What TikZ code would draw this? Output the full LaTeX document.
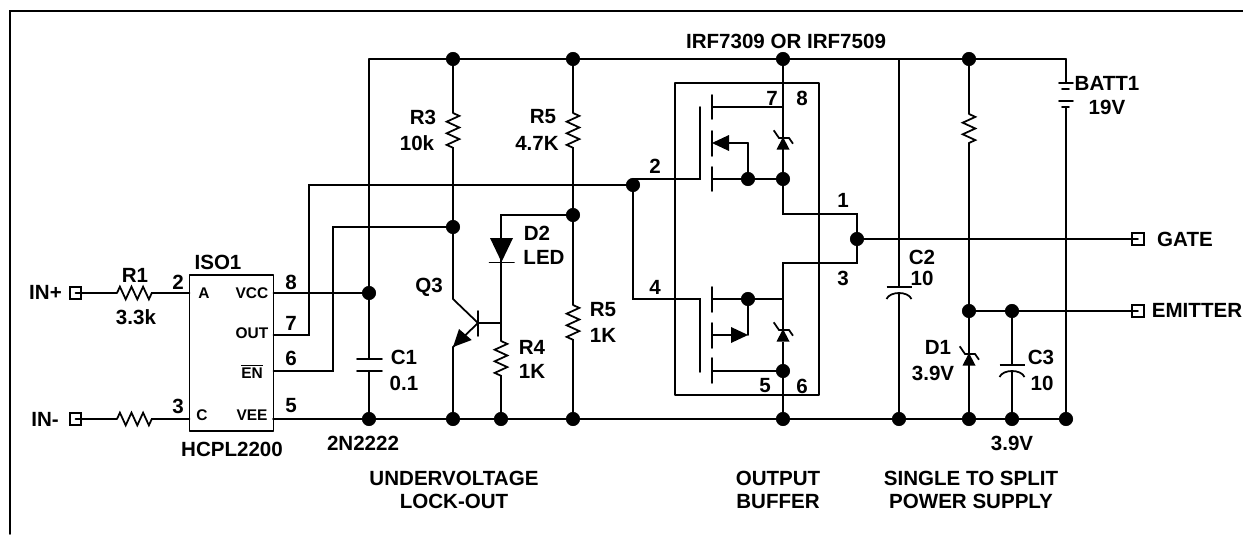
\documentclass[tikz,border=0pt]{standalone}
\usepackage{fontspec}
\setmainfont{Liberation Sans}
\usetikzlibrary{arrows,calc,decorations.pathmorphing}
\usepackage{tkz-euclide}

\tikzset{lbl/.style={font=\bfseries\fontsize{11.7}{13}\selectfont,inner sep=0pt,align=center},
  pinlbl/.style={font=\bfseries\fontsize{8.8}{10}\selectfont,inner sep=0pt},
  term/.style={draw,line width=1pt,fill=white,minimum size=6.6pt,inner sep=0pt},
  reszig/.style={line width=1pt,decorate,decoration={zigzag,segment length=6.6pt,amplitude=3.6pt}},
  zener/.pic={\fill (0,0)--(-6.5,12.5)--(6.5,12.5)--cycle;
    \draw[line width=1pt] (-9.3,-6.7)--(-4,1)--(6,1)--(10,6.7);},
  capcurve/.pic={\draw[line width=1pt] (-12.5,0)--(12.5,0);
    \draw[line width=1pt] (-12.5,12) .. controls (-9,4) and (9,4) .. (12.5,12);}}

\begin{document}
\begin{tikzpicture}[x=.02cm,y=-.02cm]
\tkzSetUpLine[line width=1pt,color=black]
\tkzSetUpPoint[fill=black,color=black]
\useasboundingbox (0,0) rectangle (1243,534);

% frame
\tkzDefPoints{10/534/Fa,10/11/Fb,1243/11/Fc}
\tkzDrawPolySeg(Fa,Fb,Fc)

% rails
\tkzDefPoints{369/59/Ta,453/59/Tb,573/59/Tc,783/59/Td,899/59/Te,969/59/Tf,1066/59/Tg}
\tkzDefPoints{273/419/Ba,369/419/Bb,453/419/Bc,501/419/Bd,573/419/Be,783/419/Bf,899/419/Bg,969/419/Bh,1012/419/Bi,1066/419/Bj}
\tkzDrawSegments(Ta,Tg Ba,Bj)

% input side and ISO1
\tkzDefPoints{189.5/275/Ia,273.5/275/Ib,273.5/431/Ic,189.5/431/Id}
\tkzDrawPolygon(Ia,Ib,Ic,Id)
\tkzDefPoints{117/293/Ra,154/293/Rb,117/419/Rc,154/419/Rd,189.5/293/Pa,189.5/419/Pc}
\tkzDefPoints{273.5/293/Pv,369/293/Ca,273.5/335/Po,309/335/Oa,309/185/Ob,633/185/Oc}
\tkzDefPoints{273.5/371/Pe,333/371/Ea,333/227/Eb,453/227/Ec}
\node[term] (InP) at (75.5,293) {};
\node[term] (InM) at (75.5,419) {};
\tkzDrawSegments(InP,Ra Rb,Pa InM,Rc Rd,Pc Pv,Ca)
\draw[reszig] (Ra) -- (Rb);
\draw[reszig] (Rc) -- (Rd);
\tkzDrawPolySeg(Po,Oa,Ob,Oc)
\tkzDrawPolySeg(Pe,Ea,Eb,Ec)

% C1
\tkzDefPoints{369/359/Cb,369/371/Cc,357/359/Cd,382/359/Ce,357/371/Cf,382/371/Cg}
\tkzDrawSegments(Ta,Cb Cc,Bb Cd,Ce Cf,Cg)

% R3, Q3
\tkzDefPoints{453/113/Rg,453/149/Rh,453/299/Qa,478/323/Qb,453/347/Qc,478/311/Qd,478/336/Qe,501/323/Qf}
\tkzDefPoints{471.7/340/Qg,459/329/Qh}
\tkzDrawSegments(Tb,Rg Qd,Qe Qb,Qf Qc,Bc Qb,Qc)
\draw[reszig] (Rg) -- (Rh);
\tkzDrawPolySeg(Rh,Qa,Qb)
\fill (Qc)--(Qg)--(Qh)--cycle;

% D2, R4
\tkzDefPoints{573/215/Da,501/215/Db,501/238/Dc,490/238/Dd,513/238/De,501.5/262/Df,489.5/262.5/Dg,514/262.5/Dh,501/341/Ri,501/377/Rj}
\tkzDrawPolySeg(Da,Db,Dc)
\fill (Dd)--(De)--(Df)--cycle;
\tkzDrawSegments(Dg,Dh Dc,Ri Rj,Bd)
\draw[reszig] (Ri) -- (Rj);

% R5 pair
\tkzDefPoints{573/113/Rk,573/149/Rl,573/305/Rm,573/341/Rn}
\tkzDrawSegments(Tc,Rk Rl,Rm Rn,Be)
\draw[reszig] (Rk) -- (Rl);
\draw[reszig] (Rm) -- (Rn);

% output buffer
\tkzDefPoints{675/83/Ma,819/83/Mb,819/395/Mc,675/395/Md}
\tkzDrawPolygon(Ma,Mb,Mc,Md)
\tkzDefPoints{633/179/Ga,700/179/Gb,700/107/Gc,633/299/Gd,700/299/Ge,700/372/Gf}
\tkzDrawPolySeg(Ga,Gb,Gc)
\tkzDrawPolySeg(Oc,Gd,Ge,Gf)
% upper fet
\tkzDefPoints{712/95/Ua,712/119/Ub,712/131/Uc,712/156/Ud,712/167/Ue,712/191/Uf}
\tkzDefPoints{712/107/Ug,783/107/Uh,712/179/Ui,748/179/Uj,783/179/Uk,748/143/Ul,712/143/Um,729/135/Un,729/151/Uo,729/143/Up,783/137/Uq,783/149/Ur}
\tkzDrawSegments(Ua,Ub Uc,Ud Ue,Uf Ug,Uh Ui,Uk Uj,Ul Ul,Up Td,Uq)
\draw[line width=1.4pt] (Ur) -- (Uk);
\fill (Um)--(Un)--(Uo)--cycle;
\pic at (Uq) {zener};
% lower fet
\tkzDefPoints{712/287/La,712/312/Lb,712/323/Lc,712/348/Ld,712/358/Le,712/383/Lf}
\tkzDefPoints{712/299/Lg,748/299/Lh,783/299/Li,712/335/Lj,748/335/Lk,731/327/Ll,731/343/Lm,731/335/Ln,712/371/Lo,783/371/Lp,783/329/Lq,783/342/Lr}
\tkzDrawSegments(La,Lb Lc,Ld Le,Lf Lg,Li Lh,Lk Lj,Ln Lo,Lp Lp,Bf Li,Lq)
\draw[line width=1.4pt] (Lr) -- (Lp);
\fill (Lk)--(Ll)--(Lm)--cycle;
\pic at (Lq) {zener};
% output joint
\tkzDefPoints{783/214/Xa,857/214/Xb,857/263/Xc,783/263/Xd,857/239/Xe}
\tkzDrawPolySeg(Uk,Xa,Xb,Xc,Xd,Li)
\node[term] (Gate) at (1138,239) {};
\tkzDrawSegments(Xe,Gate)

% supply splitter
\tkzDefPoints{899/287/Ka,899/293/Kb,969/114/Rp,969/148/Rq,969/311/Sa,1012/311/Sb,969/353/Sc,969/365/Sd,1012/365/Ke,1012/371/Kf}
\node[term] (Emit) at (1138,311) {};
\tkzDrawSegments(Te,Ka Kb,Bg Tf,Rp Rq,Sa Sa,Emit Sa,Sc Sb,Ke Kf,Bi)
\draw[reszig] (Rp) -- (Rq);
\draw[line width=1.4pt] (Sd) -- (Bh);
\pic at (Ka) {capcurve};
\pic at (Ke) {capcurve};
\pic at (Sc) {zener};
% battery
\tkzDefPoints{1066/83/Va,1059/83/Vb,1073/83/Vc,1062/89/Vd,1069/89/Ve,1059/101/Vf,1073/101/Vg,1062/107/Vh,1069/107/Vi,1066/107/Vj}
\tkzDrawSegments(Tg,Va Vb,Vc Vd,Ve Vf,Vg Vh,Vi Vj,Bj)

% dots
\tkzDrawPoints[size=7.6pt](Tb,Tc,Td,Tf,Ca,Bb,Bc,Bd,Be,Bf,Bg,Bh,Bi,Bj,Ec,Da,Oc,Uj,Uk,Lh,Lp,Xe,Sa,Sb)

% labels
\node[lbl] (lIRF) at (786,41) {IRF7309 OR IRF7509};
\node[lbl] (lInP) at (45.5,292) {IN+};
\node[lbl] (lInM) at (45,419) {IN-};
\node[lbl] (lR1) at (135,275) {R1};
\node[lbl] (lR1v) at (136,317) {3.3k};
\node[lbl] (lIso) at (218,262) {ISO1};
\node[lbl] (lHcpl) at (232,449) {HCPL2200};
\node[lbl] (lP2) at (178,282) {2};
\node[lbl] (lP3) at (178,406) {3};
\node[lbl] (lP8) at (291,282) {8};
\node[lbl] (lP7) at (291,323) {7};
\node[lbl] (lP6) at (291,358) {6};
\node[lbl] (lP5) at (291,406) {5};
\node[pinlbl] (lA) at (204,293) {A};
\node[pinlbl] (lC) at (202,415) {C};
\node[pinlbl] (lVcc) at (252,293) {VCC};
\node[pinlbl] (lOut) at (252,333) {OUT};
\node[pinlbl] (lEn) at (252,373) {\smash{$\overline{\mbox{EN}}$}\vphantom{EN}};
\node[pinlbl] (lVee) at (252,415) {VEE};
\node[lbl] (lN) at (363,443) {2N2222};
\node[lbl] (lC1) at (404,357) {C1};
\node[lbl] (lC1v) at (404,383) {0.1};
\node[lbl] (lR3) at (423,117) {R3};
\node[lbl] (lR3v) at (417,143) {10k};
\node[lbl] (lR5) at (543,117) {R5};
\node[lbl] (lR5v) at (537,143) {4.7K};
\node[lbl] (lQ3) at (429,287) {Q3};
\node[lbl] (lD2) at (537,233) {D2};
\node[lbl] (lD2v) at (544,257) {LED};
\node[lbl] (lR4) at (532,347) {R4};
\node[lbl] (lR4v) at (532,371) {1K};
\node[lbl] (lR6) at (603,310) {R5};
\node[lbl] (lR6v) at (603,335) {1K};
\node[lbl] (lG2) at (655,166) {2};
\node[lbl] (lG4) at (655,287) {4};
\node[lbl] (lF7) at (772,98) {7};
\node[lbl] (lF8) at (802,98) {8};
\node[lbl] (lF5) at (765,386) {5};
\node[lbl] (lF6) at (802,386) {6};
\node[lbl] (lF1) at (843,200) {1};
\node[lbl] (lF3) at (843,278) {3};
\node[lbl] (lC2) at (922,257) {C2};
\node[lbl] (lC2v) at (922,278) {10};
\node[lbl] (lD1) at (938,347) {D1};
\node[lbl] (lD1v) at (933,373) {3.9V};
\node[lbl] (lC3) at (1041,357) {C3};
\node[lbl] (lC3v) at (1042,383) {10};
\node[lbl] (lVz) at (1012,443) {3.9V};
\node[lbl] (lBatt) at (1107,83) {BATT1};
\node[lbl] (lBattv) at (1107,107) {19V};
\node[lbl] (lGate) at (1185,239) {GATE};
\node[lbl] (lEmit) at (1197,310) {EMITTER};
\node[lbl] (lUv) at (454,490) {UNDERVOLTAGE\\LOCK-OUT};
\node[lbl] (lBuf) at (778,490) {OUTPUT\\BUFFER};
\node[lbl] (lSup) at (971,490) {SINGLE TO SPLIT\\POWER SUPPLY};
\end{tikzpicture}
\end{document}
